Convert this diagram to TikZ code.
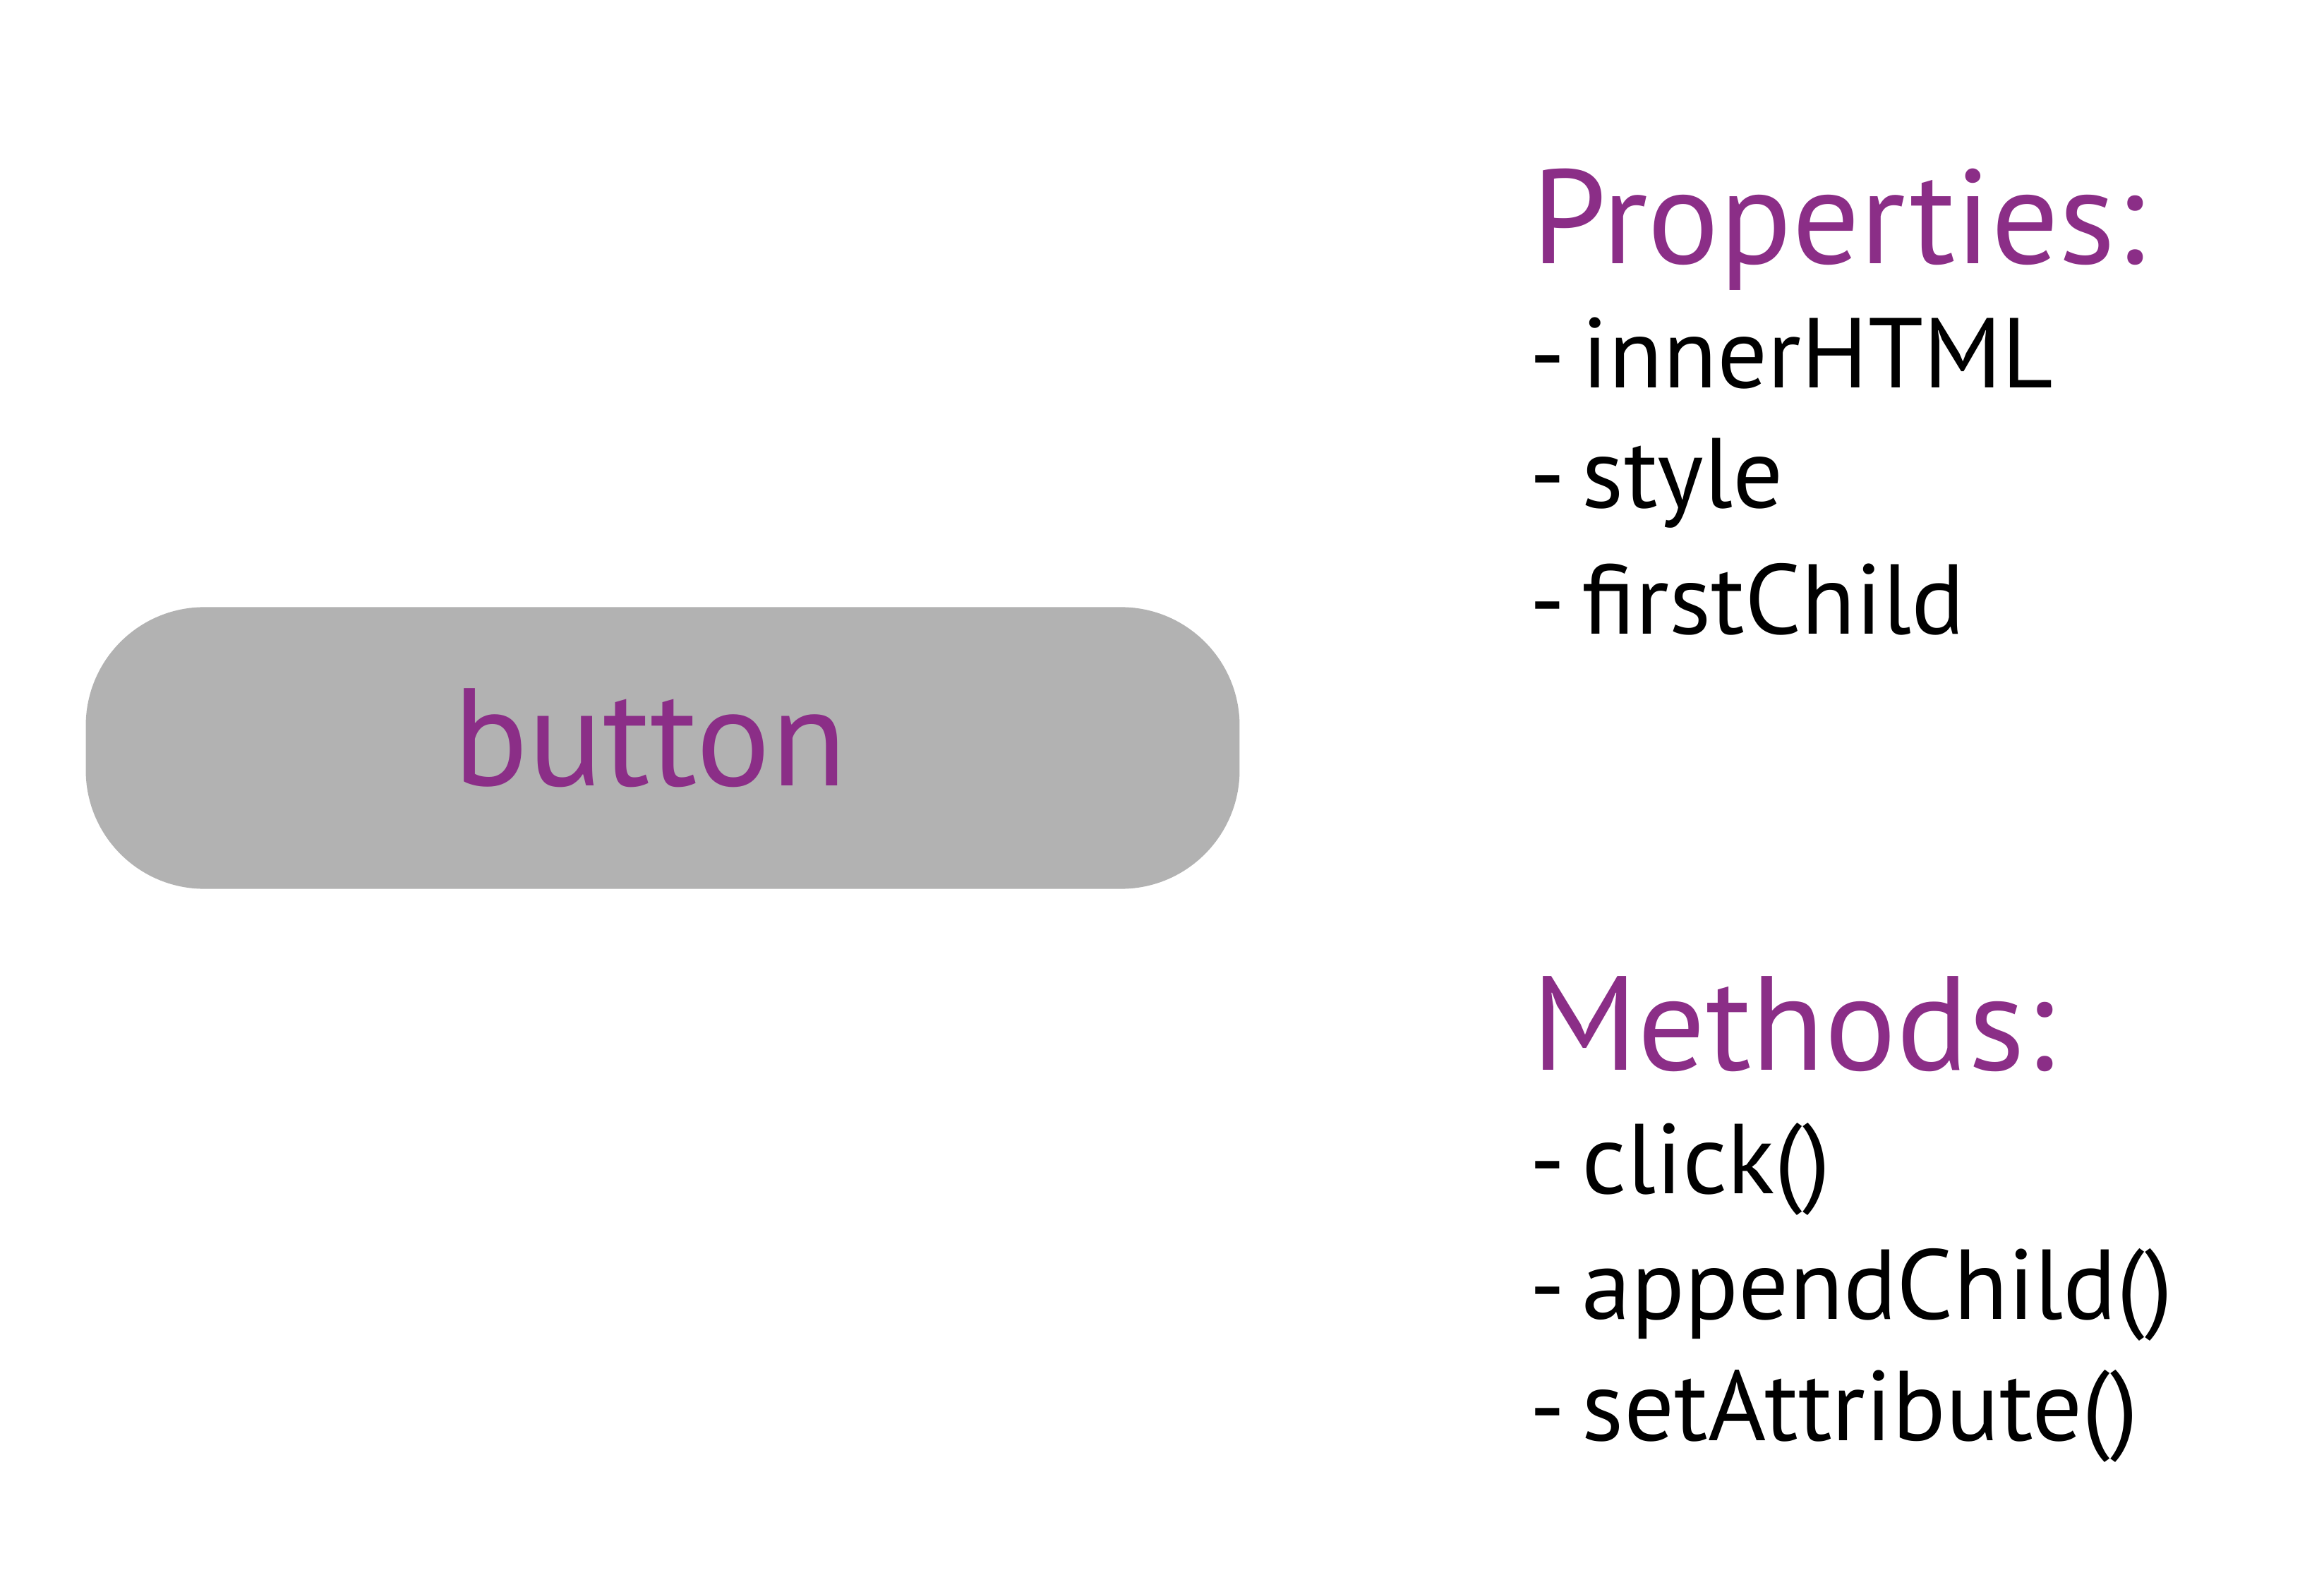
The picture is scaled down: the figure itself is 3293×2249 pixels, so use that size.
\documentclass[tikz,border=0pt]{standalone}
\usepackage{fontspec}
\setmainfont{PT Sans}
\definecolor{headpurple}{RGB}{139,46,135}
\definecolor{btngray}{RGB}{178,178,178}
\newcommand{\dashitem}[1]{-\ \kern-4pt#1}
\begin{document}
\begin{tikzpicture}[x=0.01cm,y=-0.01cm,
  head/.style={anchor=base west,inner sep=0pt,text=headpurple,font=\fontsize{54}{60}\selectfont},
  item/.style={anchor=base west,inner sep=0pt,text=black,font=\fontsize{40}{46}\selectfont},
  btnbox/.style={fill=btngray,draw=none,rounded corners=1.68cm,minimum width=16.34cm,minimum height=3.99cm,inner sep=0pt}]
\useasboundingbox[fill=white] (0,0) rectangle (3293,2249);
\node[btnbox] (btn) at (939,1060) {};
\node[head,anchor=base,font=\fontsize{56}{62}\selectfont] (btntext) at (921,1113) {button};
\node[head] (props) at (2170,374) {Properties:};
\node[item] (p1) at (2167,550) {\dashitem{innerHTML}};
\node[item] (p2) at (2167,720) {\dashitem{style}};
\node[item] (p3) at (2167,899) {\dashitem{firstChild}};
\node[head] (meths) at (2170,1516) {Methods:};
\node[item] (m1) at (2167,1691) {\dashitem{click()}};
\node[item] (m2) at (2167,1869) {\dashitem{appendChild()}};
\node[item] (m3) at (2167,2041) {\dashitem{setAttribute()}};
\end{tikzpicture}
\end{document}
